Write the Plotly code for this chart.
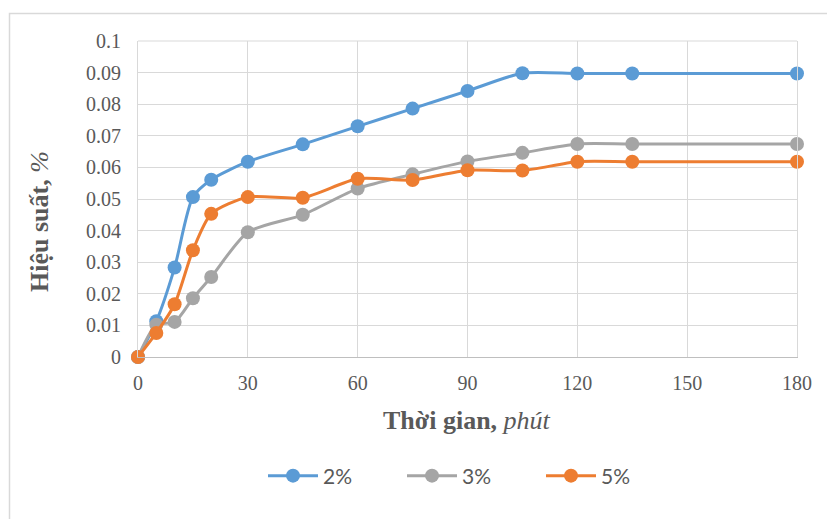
import plotly.graph_objects as go

# Reaction time (minutes) and efficiency (%) for each concentration
time_min = [0, 5, 10, 15, 20, 30, 45, 60, 75, 90, 105, 120, 135, 180]
eff_2pct = [0, 0.0113, 0.0283, 0.0506, 0.0561, 0.0618, 0.0673, 0.0730, 0.0786, 0.0842, 0.0898, 0.0897, 0.0897, 0.0897]
eff_3pct = [0, 0.0102, 0.0111, 0.0186, 0.0253, 0.0395, 0.0450, 0.0533, 0.0578, 0.0619, 0.0646, 0.0674, 0.0674, 0.0674]
eff_5pct = [0, 0.0076, 0.0167, 0.0338, 0.0453, 0.0506, 0.0504, 0.0564, 0.0560, 0.0591, 0.0590, 0.0618, 0.0618, 0.0618]

series_names = ["2%", "3%", "5%"]
series_colors = ["#5B9BD5", "#A5A5A5", "#ED7D31"]

x_ticks = [0, 30, 60, 90, 120, 150, 180]
y_ticks = [0, 0.01, 0.02, 0.03, 0.04, 0.05, 0.06, 0.07, 0.08, 0.09, 0.1]
y_tick_text = ["0", "0.01", "0.02", "0.03", "0.04", "0.05", "0.06", "0.07", "0.08", "0.09", "0.1"]

W, H = 827, 519
ML, MR, MT, MB = 138, 30, 41, 162
PW, PH = W - ML - MR, H - MT - MB


def px_x(p):
    return (p - ML) / PW


def px_y(p):
    return (H - MB - p) / PH


fig = go.Figure()
for name, color, vals in zip(series_names, series_colors, [eff_2pct, eff_3pct, eff_5pct]):
    fig.add_trace(go.Scatter(
        x=time_min, y=vals, name=name, mode="lines+markers",
        line=dict(color=color, width=3, shape="spline", smoothing=0.7),
        marker=dict(color=color, size=14),
        cliponaxis=False,
    ))

SERIF = "Liberation Serif, Times New Roman, serif"

fig.update_layout(
    width=W, height=H,
    margin=dict(l=ML, r=MR, t=MT, b=MB),
    paper_bgcolor="white", plot_bgcolor="white",
    font=dict(family=SERIF, size=20, color="#595959"),
    showlegend=True,
    legend=dict(
        orientation="h", x=px_x(263), y=px_y(476), xanchor="left", yanchor="middle",
        font=dict(family="Lato, Liberation Sans, sans-serif", size=21, color="#595959"),
        itemwidth=50, entrywidth=74, entrywidthmode="pixels",
        bgcolor="rgba(0,0,0,0)",
    ),
    xaxis=dict(
        range=[0, 180], tickvals=x_ticks, ticktext=[str(v) for v in x_ticks],
        showgrid=True, gridcolor="#D9D9D9", gridwidth=1,
        showline=True, linecolor="#BFBFBF", linewidth=1,
        zeroline=False, ticks="", ticklabelstandoff=8,
        tickfont=dict(family=SERIF, size=20, color="#595959"),
    ),
    yaxis=dict(
        range=[0, 0.1], tickvals=y_ticks, ticktext=y_tick_text,
        showgrid=True, gridcolor="#D9D9D9", gridwidth=1,
        showline=True, linecolor="#D9D9D9", linewidth=1, mirror=True,
        zeroline=False, ticks="", ticklabelstandoff=12,
        tickfont=dict(family=SERIF, size=20, color="#595959"),
    ),
    annotations=[
        dict(text="<b>Thời gian,</b> <i>phút</i>", xref="paper", yref="paper",
             x=px_x(467), y=px_y(420), xanchor="center", yanchor="middle",
             showarrow=False, font=dict(family=SERIF, size=26, color="#595959")),
        dict(text="<b>Hiệu suất,</b> <i>%</i>", xref="paper", yref="paper",
             x=px_x(40), y=px_y(222), xanchor="center", yanchor="middle",
             textangle=-90, showarrow=False, font=dict(family=SERIF, size=26, color="#595959")),
    ],
    shapes=[
        dict(type="line", xref="paper", yref="paper", x0=0, x1=1, y0=1, y1=1,
             line=dict(color="#D9D9D9", width=1)),
        dict(type="rect", xref="paper", yref="paper",
             x0=px_x(9.5), x1=px_x(840), y0=px_y(13.5), y1=px_y(530),
             line=dict(color="#D9D9D9", width=1.5), fillcolor="rgba(0,0,0,0)", layer="below"),
    ],
)

fig.write_html("out.html")
